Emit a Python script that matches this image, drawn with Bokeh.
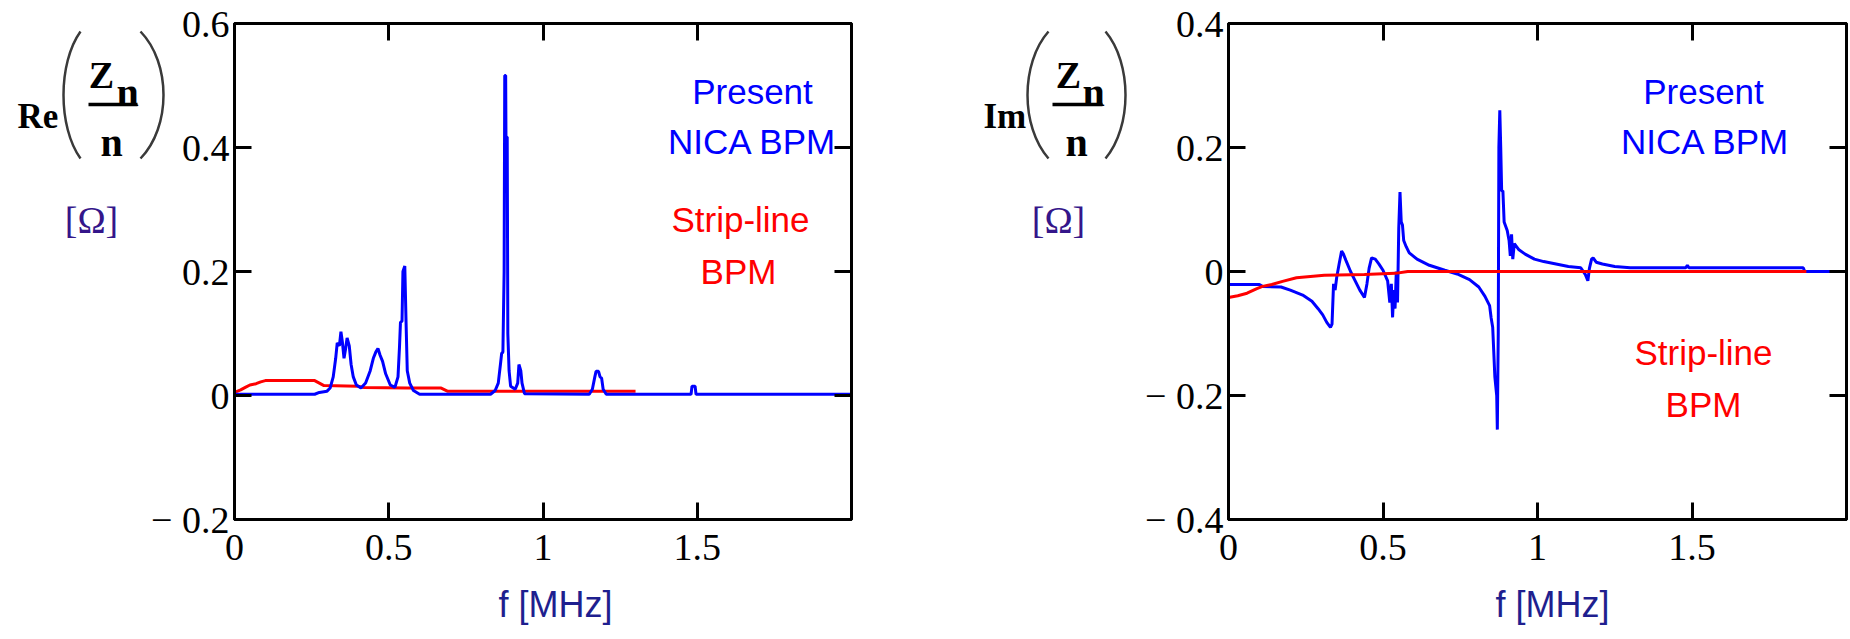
from bokeh.plotting import figure
from bokeh.models import Range1d, FixedTicker, LinearAxis, Label, CustomJSTickFormatter, InlineStyleSheet
from bokeh.layouts import row
from bokeh.embed import file_html
from bokeh.resources import INLINE

# ---------------- data ----------------
# Re(Zn/n): present NICA BPM (blue)
re_nica_f = [0.000, 0.260, 0.275, 0.300, 0.310, 0.320, 0.328, 0.333, 0.340, 0.345,
             0.350, 0.355, 0.360, 0.365, 0.372, 0.378, 0.385, 0.395, 0.410, 0.425,
             0.440, 0.450, 0.458, 0.465, 0.472, 0.480, 0.490, 0.505, 0.520, 0.530,
             0.535, 0.538, 0.543, 0.546, 0.552, 0.556, 0.560, 0.568, 0.580, 0.600,
             0.830, 0.845, 0.855, 0.862, 0.866, 0.870, 0.874, 0.876, 0.879, 0.880,
             0.884, 0.886, 0.890, 0.895, 0.910, 0.918, 0.922, 0.928, 0.932, 0.940,
             1.150, 1.160, 1.168, 1.172, 1.180, 1.185, 1.190, 1.195, 1.205, 1.480,
             1.483, 1.493, 1.496, 2.000]
re_nica_z = [0.002, 0.002, 0.005, 0.007, 0.012, 0.030, 0.060, 0.085, 0.080, 0.103,
             0.085, 0.060, 0.075, 0.093, 0.080, 0.050, 0.030, 0.017, 0.012, 0.020,
             0.040, 0.060, 0.070, 0.076, 0.065, 0.055, 0.035, 0.017, 0.013, 0.030,
             0.080, 0.118, 0.120, 0.200, 0.209, 0.120, 0.040, 0.020, 0.008, 0.002,
             0.002, 0.008, 0.020, 0.050, 0.068, 0.070, 0.200, 0.516, 0.516, 0.417,
             0.417, 0.100, 0.040, 0.015, 0.010, 0.020, 0.050, 0.040, 0.020, 0.003,
             0.002, 0.010, 0.030, 0.039, 0.039, 0.030, 0.028, 0.010, 0.002, 0.002,
             0.015, 0.015, 0.002, 0.002]
# Re(Zn/n): strip-line BPM (red)
re_strip_f = [0.00, 0.02, 0.035, 0.05, 0.07, 0.085, 0.10, 0.26, 0.275, 0.29,
              0.40, 0.42, 0.56, 0.67, 0.69, 1.30]
re_strip_z = [0.005, 0.009, 0.013, 0.017, 0.019, 0.022, 0.024, 0.024, 0.020, 0.016,
              0.015, 0.013, 0.012, 0.012, 0.007, 0.007]

# Im(Zn/n): present NICA BPM (blue)
im_nica_f = [0.000, 0.100, 0.110, 0.170, 0.200, 0.240, 0.270, 0.290, 0.305, 0.318,
             0.330, 0.335, 0.340, 0.345, 0.350, 0.358, 0.366, 0.372, 0.380, 0.395,
             0.410, 0.425, 0.440, 0.448, 0.455, 0.463, 0.475, 0.487, 0.500, 0.515,
             0.522, 0.527, 0.531, 0.535, 0.539, 0.543, 0.547, 0.551, 0.555, 0.559,
             0.563, 0.567, 0.575, 0.585, 0.610, 0.650, 0.700, 0.740, 0.780, 0.810,
             0.830, 0.845, 0.850, 0.855, 0.862, 0.868, 0.870, 0.873, 0.875, 0.878,
             0.881, 0.884, 0.888, 0.892, 0.902, 0.908, 0.912, 0.916, 0.920, 0.925,
             0.940, 0.960, 0.990, 1.020, 1.060, 1.100, 1.140, 1.155, 1.163, 1.168,
             1.175, 1.180, 1.190, 1.210, 1.250, 1.300, 1.480, 1.485, 1.490, 1.860,
             1.865, 2.000]
im_nica_z = [-0.021, -0.021, -0.024, -0.025, -0.030, -0.038, -0.048, -0.060, -0.070, -0.082,
             -0.090, -0.085, -0.020, -0.030, -0.010, 0.012, 0.033, 0.028, 0.018, 0.000,
             -0.015, -0.030, -0.042, -0.020, 0.005, 0.022, 0.020, 0.012, 0.002, -0.015,
             -0.050, -0.020, -0.074, -0.030, -0.060, 0.000, -0.050, 0.070, 0.128, 0.080,
             0.075, 0.050, 0.040, 0.030, 0.020, 0.010, 0.002, -0.004, -0.013, -0.025,
             -0.040, -0.055, -0.075, -0.090, -0.170, -0.200, -0.255, -0.100, 0.200, 0.260,
             0.200, 0.130, 0.130, 0.080, 0.066, 0.050, 0.025, 0.060, 0.020, 0.045,
             0.035, 0.028, 0.020, 0.016, 0.012, 0.008, 0.006, -0.005, -0.015, 0.005,
             0.020, 0.022, 0.015, 0.012, 0.008, 0.006, 0.006, 0.010, 0.006, 0.006,
             0.000, 0.000]
# Im(Zn/n): strip-line BPM (red)
im_strip_f = [0.00, 0.03, 0.06, 0.09, 0.11, 0.14, 0.175, 0.22, 0.31, 0.44, 0.54, 0.58, 1.87]
im_strip_z = [-0.042, -0.039, -0.035, -0.028, -0.024, -0.021, -0.016, -0.010, -0.006,
              -0.005, -0.003, 0.000, 0.000]

x_ticks = [0, 0.5, 1, 1.5]
x_tick_labels = ["0", "0.5", "1", "1.5"]
re_y_ticks = [-0.2, 0, 0.2, 0.4, 0.6]
re_y_tick_labels = ["\u2212 0.2", "0", "0.2", "0.4", "0.6"]
im_y_ticks = [-0.4, -0.2, 0, 0.2, 0.4]
im_y_tick_labels = ["\u2212 0.4", "\u2212 0.2", "0", "0.2", "0.4"]

x_title = "f [MHz]"
unit_title = "[\u03a9]"
series_names = [("Present", "NICA BPM"), ("Strip-line", "BPM")]

BLUE = "#0000ff"
RED = "#ff0000"
NAVY = "#1f1f8f"
INDIGO = "#34168a"

SERIF = "Liberation Serif"
SANS = "Liberation Sans"

# ---------------- layout geometry (page pixels) ----------------
PAGE_W, PAGE_H = 1850, 639
TOP = 23
FRAME_H = 496
MB_BOTTOM = PAGE_H - TOP - FRAME_H
OV_SHIFT = 14   # overlay canvas starts its drawing area this much lower


def style_axis(ax, ticks, labels, show):
    ax.ticker = FixedTicker(ticks=ticks)
    if show:
        ax.major_label_overrides = {t: s for t, s in zip(ticks, labels)}
        ax.major_label_text_font = SERIF
        ax.major_label_text_font_size = "38px"
        ax.major_label_text_color = "black"
    else:
        ax.formatter = CustomJSTickFormatter(code="return ''")
        ax.major_label_standoff = 0
    ax.major_tick_in = 17
    ax.major_tick_out = 0
    ax.major_tick_line_width = 3
    ax.major_tick_line_color = "black"
    ax.minor_tick_line_color = None
    ax.axis_line_color = "black"
    ax.axis_line_width = 3
    ax.axis_label = None


def make_chart(frame_w, mb_left, mb_right, y_lo, y_hi, y_ticks, y_labels):
    p = figure(frame_width=frame_w, frame_height=FRAME_H, title=None,
               min_border_left=mb_left, min_border_right=mb_right,
               min_border_top=TOP, min_border_bottom=MB_BOTTOM,
               x_range=Range1d(0, 2), y_range=Range1d(y_lo, y_hi),
               output_backend="svg", toolbar_location=None, tools="")
    p.grid.visible = False
    p.outline_line_color = "black"
    p.outline_line_width = 3
    p.background_fill_color = "white"
    p.border_fill_color = "white"
    style_axis(p.xaxis[0], x_ticks, x_tick_labels, True)
    p.xaxis[0].major_label_standoff = 15
    style_axis(p.yaxis[0], y_ticks, y_labels, True)
    p.yaxis[0].major_label_standoff = 5
    top_ax = LinearAxis()
    style_axis(top_ax, x_ticks, x_tick_labels, False)
    p.add_layout(top_ax, "above")
    right_ax = LinearAxis()
    style_axis(right_ax, y_ticks, y_labels, False)
    p.add_layout(right_ax, "right")
    return p


# left chart: Re  (frame x 234..851)
p1 = make_chart(617, 234, 49, -0.2, 0.6, re_y_ticks, re_y_tick_labels)
p1.line(re_strip_f, re_strip_z, line_color=RED, line_width=3)
p1.line(re_nica_f, re_nica_z, line_color=BLUE, line_width=3)

# right chart: Im  (frame x 1228..1846)
p2 = make_chart(618, 328, 4, -0.4, 0.4, im_y_ticks, im_y_tick_labels)
p2.line(im_nica_f, im_nica_z, line_color=BLUE, line_width=3)
p2.line(im_strip_f, im_strip_z, line_color=RED, line_width=3)

# ---------------- transparent overlay for free texts (page pixel coords) ----------------
ov = figure(frame_width=PAGE_W, frame_height=PAGE_H - OV_SHIFT, min_border=0, title=None,
            x_range=Range1d(0, PAGE_W), y_range=Range1d(PAGE_H, OV_SHIFT),
            x_axis_location=None, y_axis_location=None,
            output_backend="svg", toolbar_location=None, tools="")
ov.grid.visible = False
ov.outline_line_color = None
ov.background_fill_color = None
ov.border_fill_color = None
ov.stylesheets = [InlineStyleSheet(css=":host { position: absolute !important; left: 0px !important; "
                                       "top: 0px !important; z-index: 10 !important; }")]


def put(text, px, py, align="center", font=SERIF, size="38px", style="normal", color="black"):
    ov.add_layout(Label(x=px, y=py, text=text, text_align=align, text_baseline="alphabetic",
                        text_font=font, text_font_size=size, text_font_style=style,
                        text_color=color))


# vertical structure of the Zn/n label (page y)
BAR_Y = 118
PAR_TOP, PAR_BOT = 45, 172


def ylabel(prefix, left, par_l, par_r, z_x, sub_x, bar_l, bar_r, den_x, unit_x):
    put(prefix, left, BAR_Y + 12, align="left", size="35px", style="bold")
    cl = par_l[1] - (par_l[1] - par_l[0]) / 0.75
    cr = par_r[0] + (par_r[1] - par_r[0]) / 0.75
    h = PAR_BOT - PAR_TOP
    ov.bezier(x0=[par_l[1], par_r[0]], y0=[PAR_TOP, PAR_TOP],
              x1=[par_l[1], par_r[0]], y1=[PAR_BOT, PAR_BOT],
              cx0=[cl, cr], cy0=[PAR_TOP + 0.25 * h] * 2,
              cx1=[cl, cr], cy1=[PAR_TOP + 0.75 * h] * 2,
              line_color="#3a3a3a", line_width=2.5)
    put("Z", z_x, BAR_Y - 30, size="38px", style="bold")
    put("n", sub_x, BAR_Y - 12, size="40px", style="bold")
    ov.segment(x0=[bar_l], y0=[BAR_Y], x1=[bar_r], y1=[BAR_Y], line_color="black", line_width=3.5)
    put("n", den_x, BAR_Y + 38, size="40px", style="bold")
    put(unit_title, unit_x, 233, color=INDIGO)


ylabel("Re", 17, (63, 80), (140, 163), 101, 127, 88, 137, 111, 91)
ylabel("Im", 983, (1027, 1048), (1105, 1125), 1068, 1093, 1052, 1102, 1076, 1058)

LEG = "35px"
put(series_names[0][0], 752, 105, font=SANS, size=LEG, color=BLUE)
put(series_names[0][1], 752, 155, font=SANS, size=LEG, color=BLUE)
put(series_names[1][0], 740, 233, font=SANS, size=LEG, color=RED)
put(series_names[1][1], 738, 285, font=SANS, size=LEG, color=RED)
put(series_names[0][0], 1703, 105, font=SANS, size=LEG, color=BLUE)
put(series_names[0][1], 1705, 155, font=SANS, size=LEG, color=BLUE)
put(series_names[1][0], 1703, 366, font=SANS, size=LEG, color=RED)
put(series_names[1][1], 1703, 418, font=SANS, size=LEG, color=RED)

put(x_title, 555, 618, font=SANS, size="36px", color=NAVY)
put(x_title, 1552, 618, font=SANS, size="36px", color=NAVY)

charts = row(p1, p2)
open("out.html", "w").write(file_html([charts, ov], INLINE))
